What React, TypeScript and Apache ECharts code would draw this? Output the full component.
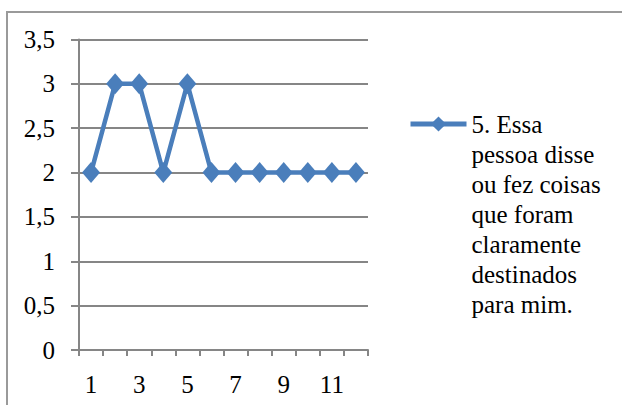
import React, { useEffect, useRef } from "react";
import * as echarts from "echarts";

const categories = ["1", "2", "3", "4", "5", "6", "7", "8", "9", "10", "11", "12"];
const values = [2, 3, 3, 2, 3, 2, 2, 2, 2, 2, 2, 2];
const seriesName = "5. Essa\npessoa disse\nou fez coisas\nque foram\nclaramente\ndestinados\npara mim.";

const FONT = "'Liberation Serif', 'Times New Roman', serif";
const BLUE = "#4A7EBB";
const GRAY = "#868686";

export default function App() {
  const ref = useRef<HTMLDivElement>(null);

  useEffect(() => {
    if (!ref.current) return;
    const chart = echarts.init(ref.current, undefined, { renderer: "svg" });
    chart.setOption({
      animation: false,
      backgroundColor: "#ffffff",
      textStyle: { fontFamily: FONT },
      graphic: [
        {
          type: "rect",
          shape: { x: 7, y: 12, width: 660, height: 440 },
          style: { fill: "none", stroke: "#9a9a9a", lineWidth: 2 },
          silent: true,
        },
      ],
      grid: { left: 79, right: 254, top: 39.5, bottom: 55 },
      xAxis: {
        type: "category",
        data: categories,
        boundaryGap: true,
        axisLine: { lineStyle: { color: GRAY, width: 2 } },
        axisTick: { show: true, interval: 0, length: 6, lineStyle: { color: GRAY, width: 2 } },
        axisLabel: { interval: 1, margin: 22, color: "#000", fontSize: 25, fontFamily: FONT },
        splitLine: { show: false },
      },
      yAxis: {
        type: "value",
        min: 0,
        max: 3.5,
        interval: 0.5,
        axisLine: { show: true, lineStyle: { color: GRAY, width: 2 } },
        axisTick: { show: true, length: 8, lineStyle: { color: GRAY, width: 2 } },
        axisLabel: {
          margin: 24,
          color: "#000",
          fontSize: 25,
          fontFamily: FONT,
          formatter: (v: number) => String(v).replace(".", ","),
        },
        splitLine: { show: true, lineStyle: { color: GRAY, width: 2 } },
      },
      legend: {
        show: true,
        orient: "vertical",
        left: 408,
        top: -71,
        padding: 0,
        itemWidth: 56,
        itemHeight: 19,
        // leading blank lines keep the first text line level with the icon
        formatter: (name: string) => "\n\n\n\n\n\n" + name,
        lineStyle: { width: 5, color: BLUE },
        itemStyle: { color: BLUE },
        textStyle: {
          color: "#000",
          fontSize: 25,
          fontFamily: FONT,
          lineHeight: 30,
        },
        data: [seriesName],
      },
      series: [
        {
          name: seriesName,
          type: "line",
          data: values,
          symbol: "diamond",
          symbolSize: [18, 21],
          showAllSymbol: true,
          lineStyle: { color: BLUE, width: 4.5 },
          itemStyle: { color: BLUE },
        },
      ],
    });
    return () => chart.dispose();
  }, []);

  return (
    <div
      ref={ref}
      style={{ position: "fixed", left: 0, top: 0, width: 622, height: 405 }}
    />
  );
}
